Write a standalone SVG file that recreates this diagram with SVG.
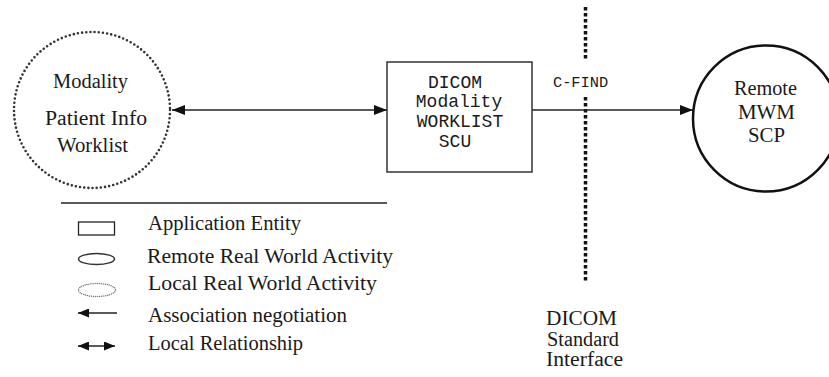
<svg xmlns="http://www.w3.org/2000/svg" width="829" height="377" viewBox="0 0 829 377">
<style>
.serif{font-family:"Liberation Serif","Times New Roman",serif;font-size:20px;fill:#1a1a1a}
.mono{font-family:"Liberation Mono","Courier New",monospace;font-size:18px;fill:#1a1a1a}
.line{stroke:#222;stroke-width:1.5;fill:none}
</style>
<defs>
<marker id="ah" markerUnits="userSpaceOnUse" markerWidth="13" markerHeight="10" refX="13" refY="5" orient="auto-start-reverse">
<path d="M0,0 L13,5 L0,10 z" fill="#111"/>
</marker>
<marker id="ahs" markerUnits="userSpaceOnUse" markerWidth="11" markerHeight="9" refX="11" refY="4.5" orient="auto-start-reverse">
<path d="M0,0 L11,4.5 L0,9 z" fill="#111"/>
</marker>
</defs>
<rect width="829" height="377" fill="#fff"/>

<g id="boundary">
<line x1="585.5" y1="7" x2="585.5" y2="61" stroke="#111" stroke-width="3.5" stroke-dasharray="3.5 2.5"/>
<line x1="585.5" y1="97" x2="585.5" y2="283" stroke="#111" stroke-width="3.5" stroke-dasharray="3.5 2.5"/>
<text class="serif" x="546" y="325" textLength="71" lengthAdjust="spacingAndGlyphs">DICOM</text>
<text class="serif" x="547" y="346" textLength="72" lengthAdjust="spacingAndGlyphs">Standard</text>
<text class="serif" x="546" y="366" textLength="77" lengthAdjust="spacingAndGlyphs">Interface</text>
</g>

<g id="connectors">
<line class="line" x1="172" y1="110" x2="387" y2="110" marker-start="url(#ah)" marker-end="url(#ah)"/>
<line class="line" x1="532" y1="110" x2="693" y2="110" marker-end="url(#ah)"/>
<text class="mono" x="553" y="87" style="font-size:15.3px">C-FIND</text>
</g>

<g id="local-modality">
<circle cx="92" cy="110" r="78" fill="none" stroke="#333" stroke-width="2.6" stroke-linecap="round" stroke-dasharray="0 4.2"/>
<text class="serif" x="53" y="88" textLength="75" lengthAdjust="spacingAndGlyphs">Modality</text>
<text class="serif" x="45" y="125" textLength="102" lengthAdjust="spacingAndGlyphs">Patient Info</text>
<text class="serif" x="57" y="152" textLength="71" lengthAdjust="spacingAndGlyphs">Worklist</text>
</g>

<g id="ae-scu">
<rect x="387" y="62" width="145" height="110" fill="#fff" stroke="#333" stroke-width="1.5"/>
<text class="mono" x="455" y="88" text-anchor="middle">DICOM</text>
<text class="mono" x="459" y="107" text-anchor="middle">Modality</text>
<text class="mono" x="460" y="127" text-anchor="middle">WORKLIST</text>
<text class="mono" x="455" y="147" text-anchor="middle">SCU</text>
</g>

<g id="remote-scp">
<circle cx="766" cy="118.5" r="73" fill="none" stroke="#111" stroke-width="2.5"/>
<text class="serif" x="734" y="95" textLength="63" lengthAdjust="spacingAndGlyphs">Remote</text>
<text class="serif" x="738" y="119" textLength="57" lengthAdjust="spacingAndGlyphs">MWM</text>
<text class="serif" x="748" y="142" textLength="37" lengthAdjust="spacingAndGlyphs">SCP</text>
</g>

<g id="legend">
<line x1="61" y1="203" x2="387" y2="203" stroke="#222" stroke-width="1.5"/>
<rect x="78.5" y="222" width="36" height="13" fill="none" stroke="#222" stroke-width="1.3"/>
<text class="serif" x="148" y="230" textLength="153" lengthAdjust="spacingAndGlyphs">Application Entity</text>
<ellipse cx="96.5" cy="259" rx="18" ry="5.5" fill="none" stroke="#333" stroke-width="1.5"/>
<text class="serif" x="147" y="263" textLength="246" lengthAdjust="spacingAndGlyphs">Remote Real World Activity</text>
<ellipse cx="97" cy="290" rx="18.5" ry="6.5" fill="none" stroke="#777" stroke-width="1.5" stroke-linecap="round" stroke-dasharray="0 2"/>
<text class="serif" x="148" y="290" textLength="229" lengthAdjust="spacingAndGlyphs">Local Real World Activity</text>
<line class="line" x1="78" y1="313" x2="117" y2="313" marker-start="url(#ahs)"/>
<text class="serif" x="148" y="322" textLength="199" lengthAdjust="spacingAndGlyphs">Association negotiation</text>
<line class="line" x1="78" y1="346" x2="115" y2="346" marker-start="url(#ahs)" marker-end="url(#ahs)"/>
<text class="serif" x="148" y="350" textLength="155" lengthAdjust="spacingAndGlyphs">Local Relationship</text>
</g>
</svg>
